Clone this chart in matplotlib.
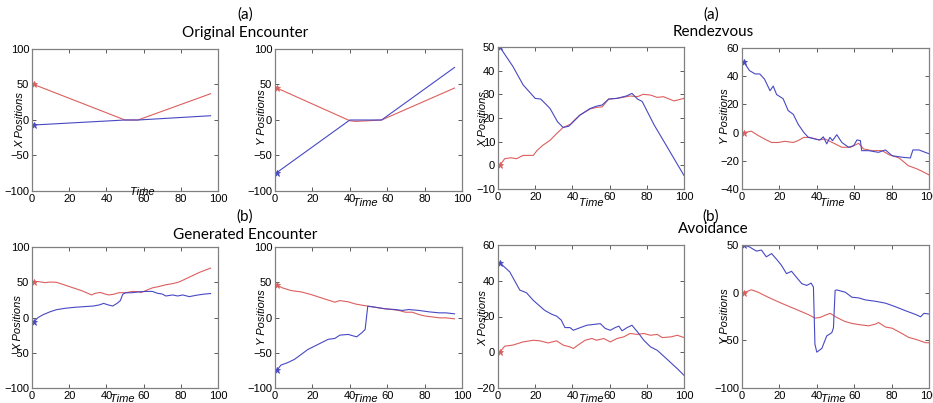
import numpy as np
import matplotlib
matplotlib.use("Agg")
import matplotlib.pyplot as plt

# ---- data (time, value) ----
# (a) Original Encounter
orig_x_red_t = [1, 50, 57, 96]
orig_x_red_v = [50, 0, 0, 37]
orig_x_blue_t = [1, 50, 57, 96]
orig_x_blue_v = [-7, 0, 0, 6]

orig_y_red_t = [1, 40, 43, 57, 96]
orig_y_red_v = [45, -1, -2, 0, 45]
orig_y_blue_t = [1, 40, 57, 96]
orig_y_blue_v = [-74, 0, 0, 74]

# (b) Generated Encounter
gen_x_red_t = [1, 3.3, 7, 9.6, 13, 16, 21.3, 26.8, 32, 34, 36.7, 39.4, 41.2, 44, 46.7, 50.3,
               54, 57.5, 58.4, 61, 64.7, 68.4, 72, 75.6, 79.2, 82.8, 86.4, 90, 96]
gen_x_red_v = [51, 51, 49.4, 50.3, 50, 47.5, 42.8, 38, 32, 34.3, 35.5, 33.3, 32, 33, 35.2, 35.2,
               37, 36.6, 35.2, 38, 42, 44, 46.5, 48, 50.5, 55, 59.5, 64, 70]
gen_x_blue_t = [1, 3.3, 6, 9.6, 13, 17.7, 23, 28.6, 33, 36, 38.5, 41.2, 43.4, 45.7, 47.5, 48.8,
                50.3, 54, 58.4, 62, 64.7, 67.5, 70, 72, 75.6, 78.3, 81, 84.6, 88.2, 92, 96]
gen_x_blue_v = [-6, 0, 4, 8, 11, 13, 14.5, 15.5, 16.3, 17.7, 20, 17.7, 16.3, 20, 24, 33,
                35, 35.2, 36.6, 37, 37, 34.3, 33.3, 30.5, 32, 30.5, 32, 29.6, 31.5, 33, 34]

gen_y_red_t = [1, 4, 8.6, 14, 19.4, 24.8, 29.3, 32, 34.7, 39.2, 42.8, 46.4, 50, 55.4, 59, 62.6,
               66.2, 69.8, 73.4, 77, 80.6, 84, 87.8, 91.4, 96]
gen_y_red_v = [46, 42, 38.2, 36.3, 32.5, 27.8, 24, 21.7, 24, 22.2, 19.3, 17.5, 16, 13.7, 12.3, 11.3,
               10, 7.5, 7.5, 4.2, 1.9, 0.9, -0.5, -0.5, -1.9]
gen_y_blue_t = [1, 3.2, 6.8, 10.4, 14, 17.6, 23, 28.4, 32, 34.7, 39.2, 41, 43.7, 46.4, 48.2, 48.7,
                49.6, 53.6, 59, 64.4, 68, 71.6, 77, 82.4, 87.8, 91.4, 96]
gen_y_blue_v = [-75, -67.5, -64, -59.4, -52.4, -45.3, -38.2, -31, -29.7, -25, -24, -25.5, -27.4, -21.7, -17, -5.2,
                16, 14.6, 12.3, 11.3, 10, 11.3, 10, 8, 6.6, 6.6, 5.2]

# (a) Rendezvous
ren_x_blue_t = [1, 8, 13.5, 20, 23, 28, 32, 35, 38, 40.5, 44, 49.5, 53, 56, 59.5, 64, 69, 72,
                75, 77.5, 84, 91, 100]
ren_x_blue_v = [50, 41.8, 34, 28.3, 28, 24, 18.4, 16, 16.5, 18.4, 21.2, 24, 25, 25.5, 28, 28.3, 29.3, 30.4,
                28, 27, 17, 7.7, -4.3]
ren_x_red_t = [1, 3.6, 7, 10, 13.5, 19, 21, 24, 28, 31.5, 35, 39, 41, 44, 49.5, 53, 56, 59.5, 64,
               71, 75, 78, 82, 85.6, 89, 94.6, 100]
ren_x_red_v = [0, 2.8, 3.2, 2.8, 4.2, 4.2, 6.3, 8.4, 10.6, 13.4, 16, 17.4, 19, 21.2, 23.8, 24.5, 24.7, 28, 28.3,
               29.3, 29, 30, 29.7, 28.7, 29, 27.2, 28.3]

ren_y_blue_t = [1, 4, 7, 9.5, 12, 15, 16.7, 18.5, 22, 24.7, 27.4, 30, 33, 35.5, 39, 41.7, 43.5, 45.3,
                47, 48.4, 50.7, 53.4, 57, 59.7, 61.5, 63.3, 64, 67.7, 73, 76.7, 80.3, 85.7, 90, 91.4,
                94.6, 100]
ren_y_blue_v = [50, 44, 41.6, 41.6, 38, 29.7, 33, 27, 24, 15.6, 13, 6, 0.2, -3.4, -4.5, -5.2, -3, -8,
                -3.4, -5.7, -1.5, -7, -10.4, -9.3, -5.2, -5.7, -12.8, -12.8, -14, -12.3, -16.4, -17.5, -18, -12.3,
                -12.3, -15]
ren_y_red_t = [1, 5, 8.6, 12, 15.8, 19.4, 23, 27.4, 30, 33, 36.4, 40.9, 44.4, 49.8, 53.4, 58, 62.4,
               65, 69.5, 75, 78.5, 84, 89, 93.7, 96.4, 100]
ren_y_red_v = [0, 1, -2, -4.5, -7, -7, -6.2, -7, -5.7, -3.4, -3.4, -5.2, -4.5, -8, -10.4, -10.4, -7.6,
               -11.6, -12.8, -12.8, -15.6, -18, -23.5, -25.8, -27.5, -30]

# (b) Avoidance
avo_x_blue_t = [1, 6.3, 11.7, 15.3, 19, 22.5, 25, 28.8, 31.5, 34, 36, 38.7, 40.5, 43, 47.7, 55, 57.7,
                60.4, 63, 65, 66.7, 69.4, 72, 75, 78.4, 82, 85.6, 91, 96.4, 100]
avo_x_blue_v = [50, 45, 34.8, 33.3, 29, 25.8, 23.5, 21.3, 20.2, 18, 13.8, 13.8, 12.3, 13.3, 15.1, 16, 13.3,
                12.3, 13.8, 14.6, 12, 13.8, 15.1, 11.4, 6.7, 3, 1.1, -4, -9.2, -12.9]
avo_x_red_t = [1, 3.6, 8, 13.5, 19, 22.5, 27, 31.5, 35, 38.7, 40.5, 43, 46.8, 50.5, 53, 56.8, 60.4,
               64, 67.6, 71, 75, 78.4, 82, 85.6, 88.3, 93, 96.4, 100]
avo_x_red_v = [0, 3.4, 4, 5.8, 6.7, 6.4, 5.2, 6.4, 4, 3, 2.1, 4, 6.7, 7.7, 6.7, 7.7, 5.8,
               7.7, 8.6, 10.5, 10, 10.5, 9.5, 10, 8.2, 8.6, 9.5, 8.2]

avo_y_blue_t = [1, 4, 7.7, 10.4, 13, 15.8, 18.5, 21, 23.8, 26.5, 29, 32, 34.6, 37, 38.2, 39, 40,
                42.7, 45.3, 48, 48.9, 49.8, 50.7, 55.2, 58.8, 62.4, 66, 71.3, 76.7, 82, 87.5, 93,
                95.5, 97.3, 100]
avo_y_blue_v = [50, 48, 43.6, 44.7, 37.6, 41, 35, 29, 20, 22.4, 16.4, 9.4, 7.6, 10, 5.8, -54, -62.4,
                -58.5, -45.4, -42, -37, 2.3, 2.9, 0.5, -4.8, -5.5, -7.6, -9, -11, -14.7, -19, -23,
                -25.3, -21.7, -22.4]
avo_y_red_t = [1, 5, 8.6, 14, 21, 28.3, 35.5, 39, 41.8, 45.3, 47.2, 50.7, 55, 58.8, 63.3, 67.7,
               71.3, 73, 76.7, 80.3, 85.7, 89.2, 93, 95.5, 98.2, 100]
avo_y_red_v = [0, 3, 0.5, -4.8, -11, -17, -23, -26.7, -26, -23, -21.7, -26, -30.2, -32.3, -33.7, -34.8,
               -33, -31.3, -36, -37.3, -43, -47, -49, -50.7, -52.5, -52.5]

RED = "#dc5f5f"
BLUE = "#4848c4"
W, H = 933, 403

plt.rcParams["font.family"] = ["Liberation Sans", "DejaVu Sans"]
fig = plt.figure(figsize=(W / 100, H / 100), dpi=100)


def make_ax(left, top, right, bottom):
    return fig.add_axes([left / W, 1 - bottom / H, (right - left) / W, (bottom - top) / H])


def style(ax, ylim, yticks, ylabel, ylab_pos):
    ax.set_xlim(0, 100)
    ax.set_ylim(*ylim)
    ax.set_xticks(range(0, 101, 20))
    ax.set_yticks(yticks)
    ax.tick_params(direction="in", length=3, width=0.6, top=True, right=True,
                   labelsize=8, pad=2, color="#404040")
    for s in ax.spines.values():
        s.set_color("#808080")
        s.set_linewidth(0.9)
    ax.set_ylabel(ylabel, fontsize=8, style="italic")
    ax.yaxis.set_label_coords(*ylab_pos)


def draw(ax, rt, rv, bt, bv):
    ax.plot(rt, rv, color=RED, lw=0.8)
    ax.plot(bt, bv, color=BLUE, lw=0.8)
    ax.plot(rt[0], rv[0], marker="*", color=RED, ms=5, mew=0.6)
    ax.plot(bt[0], bv[0], marker="*", color=BLUE, ms=5, mew=0.6)


ax1 = make_ax(32, 49, 218, 191)
draw(ax1, orig_x_red_t, orig_x_red_v, orig_x_blue_t, orig_x_blue_v)
style(ax1, (-100, 100), range(-100, 101, 50), "X Positions", (-0.038, 0.5))

ax2 = make_ax(275, 49, 462, 191)
draw(ax2, orig_y_red_t, orig_y_red_v, orig_y_blue_t, orig_y_blue_v)
style(ax2, (-100, 100), range(-100, 101, 50), "Y Positions", (-0.043, 0.52))

ax3 = make_ax(498, 47, 684, 189)
draw(ax3, ren_x_red_t, ren_x_red_v, ren_x_blue_t, ren_x_blue_v)
style(ax3, (-10, 50), range(-10, 51, 10), "X Positions", (-0.054, 0.49))

ax4 = make_ax(742, 48, 929, 189)
draw(ax4, ren_y_red_t, ren_y_red_v, ren_y_blue_t, ren_y_blue_v)
style(ax4, (-40, 60), range(-40, 61, 20), "Y Positions", (-0.064, 0.52))

ax5 = make_ax(32, 247, 218, 388)
draw(ax5, gen_x_red_t, gen_x_red_v, gen_x_blue_t, gen_x_blue_v)
style(ax5, (-100, 100), range(-100, 101, 50), "X Positions", (-0.045, 0.46))

ax6 = make_ax(275, 247, 462, 388)
draw(ax6, gen_y_red_t, gen_y_red_v, gen_y_blue_t, gen_y_blue_v)
style(ax6, (-100, 100), range(-100, 101, 50), "Y Positions", (-0.043, 0.5))

ax7 = make_ax(498, 245, 684, 388)
draw(ax7, avo_x_red_t, avo_x_red_v, avo_x_blue_t, avo_x_blue_v)
style(ax7, (-20, 60), range(-20, 61, 20), "X Positions", (-0.054, 0.49))

ax8 = make_ax(742, 245, 929, 388)
draw(ax8, avo_y_red_t, avo_y_red_v, avo_y_blue_t, avo_y_blue_v)
style(ax8, (-100, 50), range(-100, 51, 50), "Y Positions", (-0.064, 0.5))

# "Time" labels sit at odd spots in the original
time_pos = [(142, 192), (365, 203), (591, 203), (832, 203),
            (122, 399), (365, 399), (591, 399), (833, 399)]
for px, py in time_pos:
    fig.text(px / W, 1 - py / H, "Time", fontsize=8, style="italic", ha="center", va="center")

# group titles
tfont = ["Lato", "DejaVu Sans"]
titles = [(245, 15, "(a)"), (245, 33, "Original Encounter"),
          (711, 15, "(a)"), (713, 32, "Rendezvous"),
          (245, 217, "(b)"), (245, 235, "Generated Encounter"),
          (711, 217, "(b)"), (713, 229, "Avoidance")]
for px, py, s in titles:
    fig.text(px / W, 1 - py / H, s, fontsize=11, family=tfont, ha="center", va="center")

fig.savefig("out.png", dpi=100)
